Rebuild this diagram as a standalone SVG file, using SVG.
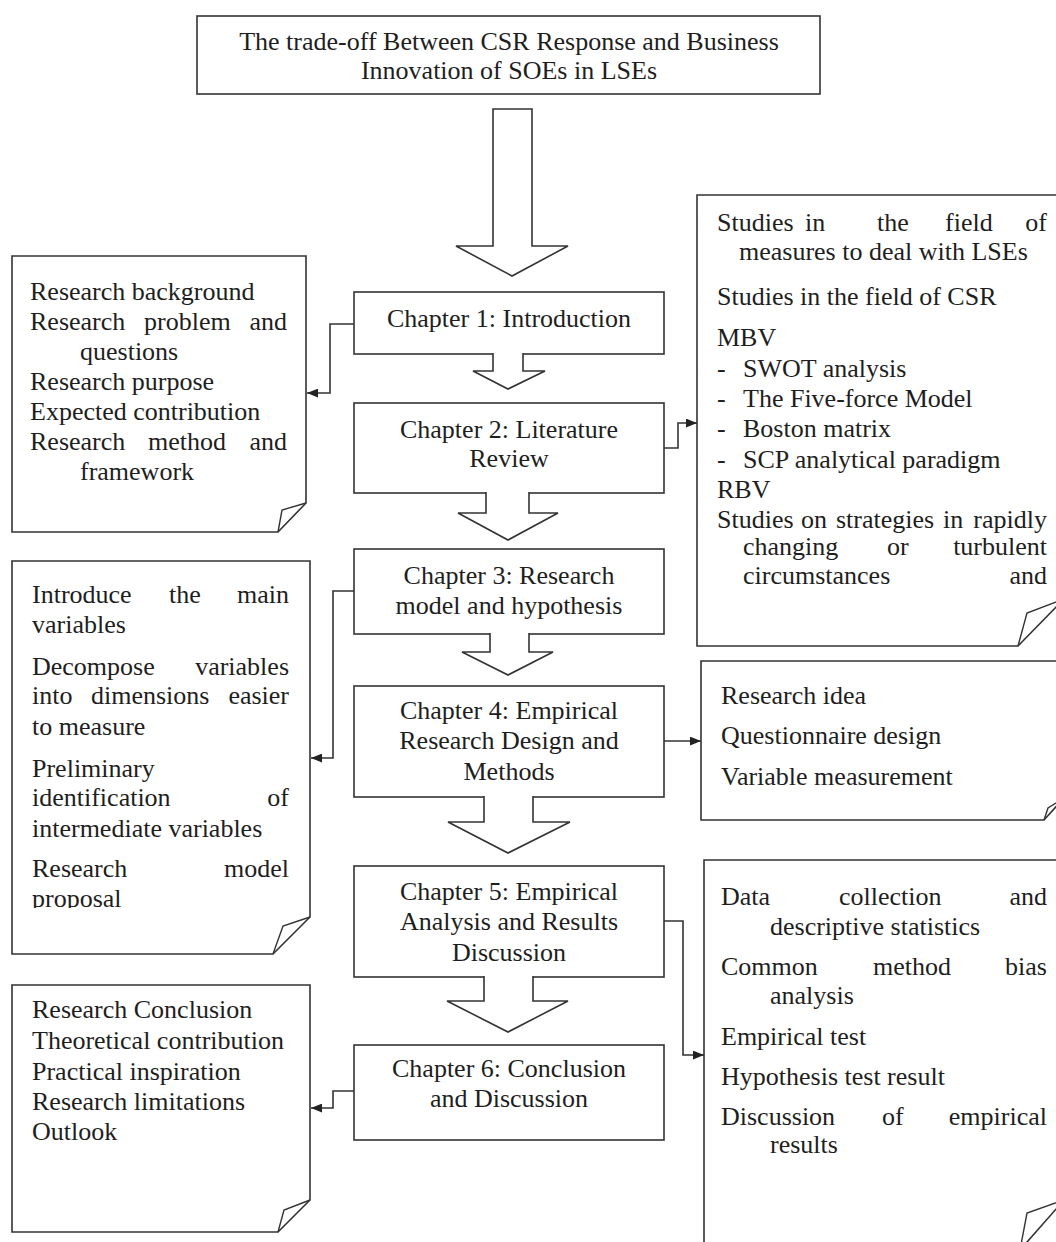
<svg xmlns="http://www.w3.org/2000/svg" width="1056" height="1242" viewBox="0 0 1056 1242">
<style>
.box{fill:#fff;stroke:#333;stroke-width:1.6}
.fold{fill:none;stroke:#333;stroke-width:1.4;stroke-linejoin:miter}
.t{font-family:"Liberation Serif","Times New Roman",serif;font-size:26px;fill:#1e1e1e}
.c{text-anchor:middle}
.e{text-anchor:end}
.conn{fill:none;stroke:#333;stroke-width:1.6}
.blk{fill:#fff;stroke:#333;stroke-width:1.6}
</style>
<defs>
<marker id="ah" viewBox="0 0 10 8" refX="10" refY="4" markerWidth="11" markerHeight="9" markerUnits="userSpaceOnUse" orient="auto">
<path d="M0,0 L10,4 L0,8 Z" fill="#222"/>
</marker>
<clipPath id="clipL2"><rect x="12" y="561" width="298" height="347"/></clipPath>
</defs>
<rect width="1056" height="1242" fill="#fff"/>

<g id="title">
<rect class="box" x="197" y="16" width="623" height="78"/>
<text class="t c" x="509" y="50">The trade-off Between CSR Response and Business</text>
<text class="t c" x="509" y="79">Innovation of SOEs in LSEs</text>
</g>

<g id="ch1">
<rect class="box" x="354" y="292" width="310" height="62"/>
<text class="t c" x="509" y="327">Chapter 1: Introduction</text>
</g>
<g id="ch2">
<rect class="box" x="354" y="403" width="310" height="90"/>
<text class="t c" x="509" y="438">Chapter 2: Literature</text>
<text class="t c" x="509" y="467">Review</text>
</g>
<g id="ch3">
<rect class="box" x="354" y="549" width="310" height="85"/>
<text class="t c" x="509" y="584">Chapter 3: Research</text>
<text class="t c" x="509" y="614">model and hypothesis</text>
</g>
<g id="ch4">
<rect class="box" x="354" y="686" width="310" height="111"/>
<text class="t c" x="509" y="719">Chapter 4: Empirical</text>
<text class="t c" x="509" y="749">Research Design and</text>
<text class="t c" x="509" y="780">Methods</text>
</g>
<g id="ch5">
<rect class="box" x="354" y="866" width="310" height="111"/>
<text class="t c" x="509" y="900">Chapter 5: Empirical</text>
<text class="t c" x="509" y="930">Analysis and Results</text>
<text class="t c" x="509" y="961">Discussion</text>
</g>
<g id="ch6">
<rect class="box" x="354" y="1045" width="310" height="95"/>
<text class="t c" x="509" y="1077">Chapter 6: Conclusion</text>
<text class="t c" x="509" y="1107">and Discussion</text>
</g>

<g id="note-intro">
<path class="box" d="M12,256 H306 V503 L278,532 H12 Z"/>
<path class="fold" d="M306,503 L282,510 L278,532"/>
<text class="t" x="30" y="300">Research background</text>
<text class="t" y="330"><tspan x="30">Research</tspan><tspan x="144">problem</tspan><tspan x="287" text-anchor="end">and</tspan></text>
<text class="t" x="80" y="360">questions</text>
<text class="t" x="30" y="390">Research purpose</text>
<text class="t" x="30" y="420">Expected contribution</text>
<text class="t" y="450"><tspan x="30">Research</tspan><tspan x="148">method</tspan><tspan x="287" text-anchor="end">and</tspan></text>
<text class="t" x="80" y="480">framework</text>
</g>

<g id="note-model">
<path class="box" d="M12,561 H310 V917 L273,954 H12 Z"/>
<path class="fold" d="M310,917 L283,926 L273,954"/>
<g clip-path="url(#clipL2)">
<text class="t" y="603"><tspan x="32">Introduce</tspan><tspan x="169">the</tspan><tspan x="289" text-anchor="end">main</tspan></text>
<text class="t" x="32" y="633">variables</text>
<text class="t" y="675"><tspan x="32">Decompose</tspan><tspan x="289" text-anchor="end">variables</tspan></text>
<text class="t" y="704"><tspan x="32">into</tspan><tspan x="91">dimensions</tspan><tspan x="289" text-anchor="end">easier</tspan></text>
<text class="t" x="32" y="735">to measure</text>
<text class="t" x="32" y="777">Preliminary</text>
<text class="t" y="806"><tspan x="32">identification</tspan><tspan x="289" text-anchor="end">of</tspan></text>
<text class="t" x="32" y="837">intermediate variables</text>
<text class="t" y="877"><tspan x="32">Research</tspan><tspan x="289" text-anchor="end">model</tspan></text>
<text class="t" x="32" y="907">proposal</text>
</g>
</g>

<g id="note-conclusion">
<path class="box" d="M12,985 H310 V1200 L278,1232 H12 Z"/>
<path class="fold" d="M310,1200 L284,1210 L278,1232"/>
<text class="t" x="32" y="1018">Research Conclusion</text>
<text class="t" x="32" y="1049">Theoretical contribution</text>
<text class="t" x="32" y="1080">Practical inspiration</text>
<text class="t" x="32" y="1110">Research limitations</text>
<text class="t" x="32" y="1140">Outlook</text>
</g>

<g id="note-literature">
<path class="box" d="M697,195 H1064 V599 L1018,646 H697 Z"/>
<path class="fold" d="M1064,599 L1027,613 L1018,646"/>
<text class="t" y="231"><tspan x="717">Studies</tspan><tspan x="805">in</tspan><tspan x="877">the</tspan><tspan x="945">field</tspan><tspan x="1047" text-anchor="end">of</tspan></text>
<text class="t" x="739" y="260">measures to deal with LSEs</text>
<text class="t" x="717" y="305">Studies in the field of CSR</text>
<text class="t" x="717" y="346">MBV</text>
<text class="t" x="717" y="377">-</text><text class="t" x="743" y="377">SWOT analysis</text>
<text class="t" x="717" y="407">-</text><text class="t" x="743" y="407">The Five-force Model</text>
<text class="t" x="717" y="437">-</text><text class="t" x="743" y="437">Boston matrix</text>
<text class="t" x="717" y="468">-</text><text class="t" x="743" y="468">SCP analytical paradigm</text>
<text class="t" x="717" y="498">RBV</text>
<text class="t" y="528"><tspan x="717">Studies</tspan><tspan x="801">on</tspan><tspan x="836">strategies</tspan><tspan x="943">in</tspan><tspan x="1047" text-anchor="end">rapidly</tspan></text>
<text class="t" y="555"><tspan x="743">changing</tspan><tspan x="887">or</tspan><tspan x="1047" text-anchor="end">turbulent</tspan></text>
<text class="t" y="584"><tspan x="743">circumstances</tspan><tspan x="1047" text-anchor="end">and</tspan></text>
</g>

<g id="note-design">
<path class="box" d="M701,661 H1064 V798 L1044,820 H701 Z"/>
<path class="fold" d="M1064,798 L1048,808 L1044,820"/>
<text class="t" x="721" y="704">Research idea</text>
<text class="t" x="721" y="744">Questionnaire design</text>
<text class="t" x="721" y="785">Variable measurement</text>
</g>

<g id="note-analysis">
<path class="box" d="M704,860 H1064 V1200 L1020,1250 H704 Z"/>
<path class="fold" d="M1064,1200 L1027,1213 L1020,1250"/>
<text class="t" y="905"><tspan x="721">Data</tspan><tspan x="839">collection</tspan><tspan x="1047" text-anchor="end">and</tspan></text>
<text class="t" x="770" y="935">descriptive statistics</text>
<text class="t" y="975"><tspan x="721">Common</tspan><tspan x="873">method</tspan><tspan x="1047" text-anchor="end">bias</tspan></text>
<text class="t" x="770" y="1004">analysis</text>
<text class="t" x="721" y="1045">Empirical test</text>
<text class="t" x="721" y="1085">Hypothesis test result</text>
<text class="t" y="1125"><tspan x="721">Discussion</tspan><tspan x="882">of</tspan><tspan x="1047" text-anchor="end">empirical</tspan></text>
<text class="t" x="770" y="1153">results</text>
</g>

<g id="connectors">
<polygon class="blk" points="493,109 532,109 532,246 568,246 512,276 456,246 493,246"/>
<path class="blk" d="M493,353 V371 H473 L508,389 L545,371 H523 V353"/>
<path class="blk" d="M486,492 V513 H458 L508,540 L558,513 H529 V492"/>
<path class="blk" d="M490,633 V652 H462 L508,675 L553,652 H529 V633"/>
<path class="blk" d="M484,796 V822 H448 L508,853 L570,822 H533 V796"/>
<path class="blk" d="M484,976 V1001 H447 L508,1032 L568,1001 H533 V976"/>
<polyline class="conn" points="354,324 330,324 330,393 307,393" marker-end="url(#ah)"/>
<polyline class="conn" points="664,448 678,448 678,423 697,423" marker-end="url(#ah)"/>
<polyline class="conn" points="354,591 333,591 333,758 311,758" marker-end="url(#ah)"/>
<polyline class="conn" points="664,741 701,741" marker-end="url(#ah)"/>
<polyline class="conn" points="664,921 683,921 683,1055 704,1055" marker-end="url(#ah)"/>
<polyline class="conn" points="354,1091 333,1091 333,1108 311,1108" marker-end="url(#ah)"/>
</g>
</svg>
